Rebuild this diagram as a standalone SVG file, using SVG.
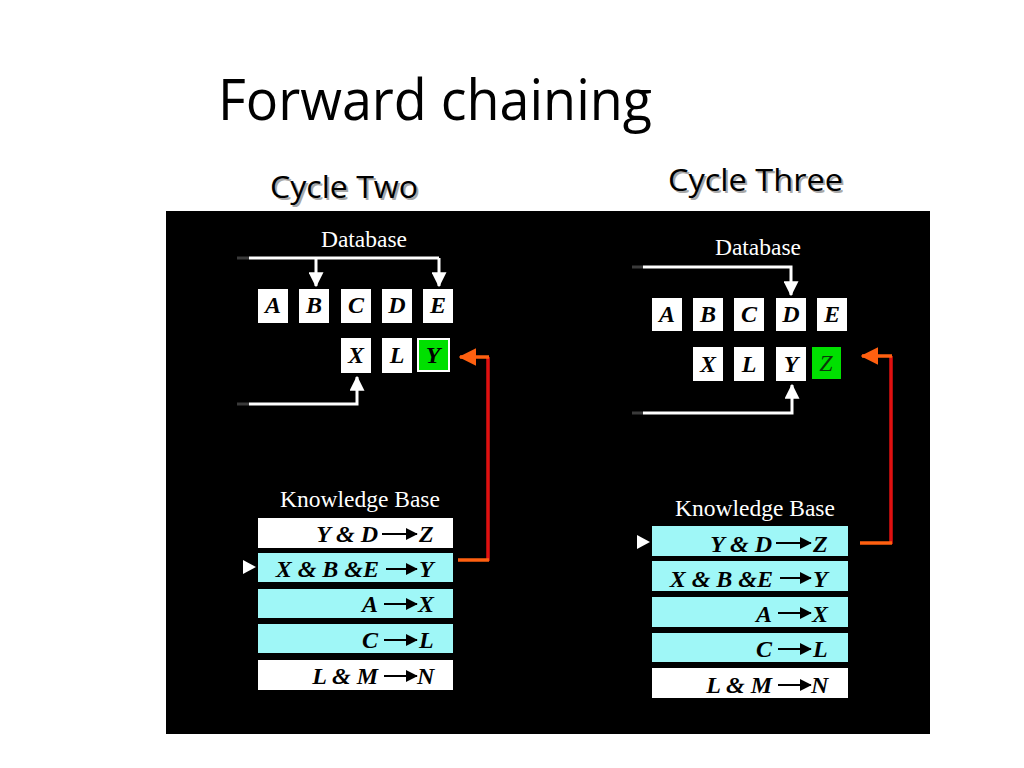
<svg xmlns="http://www.w3.org/2000/svg" width="1024" height="768" viewBox="0 0 1024 768">
<defs>
<style>
.title{font-family:"Open Sans","Liberation Sans",sans-serif;fill:#000}
.cyc{font-family:"Open Sans","Liberation Sans",sans-serif;font-size:31px}
.hdr{font-family:"Liberation Serif",serif;font-size:23.5px;fill:#fff;text-anchor:middle}
.box{fill:#fff}
.lt{font-family:"Liberation Serif",serif;font-size:24px;font-weight:bold;font-style:italic;fill:#000;text-anchor:middle}
.rt{font-family:"Liberation Serif",serif;font-size:24px;font-weight:bold;font-style:italic;fill:#000}
.wl{stroke:#fff;stroke-width:3;fill:none}
.dl{stroke:#3a3a3a;stroke-width:3;fill:none}
.cy{fill:#9ff7f7}
.wh{fill:#fff}
.al{stroke:#000;stroke-width:2;fill:none}
.red{stroke:#e01010;stroke-width:3.5;fill:none}
.org{stroke:#ff6010;stroke-width:3.5;fill:none}
</style>
<marker id="wa" markerWidth="5" markerHeight="5" refX="4.6" refY="2.5" orient="auto" markerUnits="strokeWidth"><path d="M0,0 L5,2.5 L0,5 z" fill="#fff"/></marker>
<marker id="oa" markerWidth="5" markerHeight="5" refX="4.6" refY="2.5" orient="auto" markerUnits="strokeWidth"><path d="M0,0 L5,2.5 L0,5 z" fill="#ff6010"/></marker>
<marker id="ka" markerWidth="6" markerHeight="6" refX="5.6" refY="3" orient="auto" markerUnits="strokeWidth"><path d="M0,0 L6,3 L0,6 z" fill="#000"/></marker>
</defs>
<rect width="1024" height="768" fill="#fff"/>
<text class="title" x="218" y="120" font-size="56" textLength="434" lengthAdjust="spacingAndGlyphs">Forward chaining</text>
<g id="cycle-two-label">
<text class="cyc" x="272" y="200" fill="#a8a8a8" textLength="148" lengthAdjust="spacingAndGlyphs">Cycle Two</text>
<text class="cyc" x="270" y="198" fill="#000" textLength="148" lengthAdjust="spacingAndGlyphs">Cycle Two</text>
</g>
<g id="cycle-three-label">
<text class="cyc" x="670" y="193" fill="#a8a8a8" textLength="175" lengthAdjust="spacingAndGlyphs">Cycle Three</text>
<text class="cyc" x="668" y="191" fill="#000" textLength="175" lengthAdjust="spacingAndGlyphs">Cycle Three</text>
</g>
<rect id="panel" x="166" y="211" width="764" height="523" fill="#000"/>

<!-- Cycle Two database -->
<g id="db2">
<text class="hdr" x="364" y="247">Database</text>
<g id="db2-A"><rect class="box" x="258" y="289" width="30" height="34"/><text class="lt" x="273" y="313">A</text></g>
<g id="db2-B"><rect class="box" x="299" y="289" width="30" height="34"/><text class="lt" x="314" y="313">B</text></g>
<g id="db2-C"><rect class="box" x="341" y="289" width="30" height="34"/><text class="lt" x="356" y="313">C</text></g>
<g id="db2-D"><rect class="box" x="382" y="289" width="30" height="34"/><text class="lt" x="397" y="313">D</text></g>
<g id="db2-E"><rect class="box" x="423" y="289" width="30" height="34"/><text class="lt" x="438" y="313">E</text></g>
<g id="db2-X"><rect class="box" x="341" y="338" width="30" height="35"/><text class="lt" x="356" y="363">X</text></g>
<g id="db2-L"><rect class="box" x="382" y="338" width="30" height="35"/><text class="lt" x="397" y="363">L</text></g>
<g id="db2-Y"><rect x="418" y="339" width="31" height="32" fill="#00e000" stroke="#fff" stroke-width="2"/><text class="lt" x="433" y="363">Y</text></g>
</g>

<!-- Cycle Two knowledge base -->
<g id="kb2">
<text class="hdr" x="360" y="507">Knowledge Base</text>
<g id="kb2-r1"><rect class="wh" x="258" y="518" width="195" height="30"/><text class="rt" x="378" y="542" text-anchor="end">Y &amp; D</text><line class="al" x1="382" y1="534" x2="417" y2="534" marker-end="url(#ka)"/><text class="rt" x="419" y="542">Z</text></g>
<g id="kb2-r2"><rect class="cy" x="258" y="553" width="195" height="29"/><text class="rt" x="379" y="577" text-anchor="end">X &amp; B &amp;E</text><line class="al" x1="386" y1="569" x2="417" y2="569" marker-end="url(#ka)"/><text class="rt" x="419" y="577">Y</text></g>
<g id="kb2-r3"><rect class="cy" x="258" y="589" width="195" height="29"/><text class="rt" x="378" y="612" text-anchor="end">A</text><line class="al" x1="384" y1="604" x2="417" y2="604" marker-end="url(#ka)"/><text class="rt" x="418" y="612">X</text></g>
<g id="kb2-r4"><rect class="cy" x="258" y="624" width="195" height="29"/><text class="rt" x="378" y="648" text-anchor="end">C</text><line class="al" x1="384" y1="640" x2="417" y2="640" marker-end="url(#ka)"/><text class="rt" x="419" y="648">L</text></g>
<g id="kb2-r5"><rect class="wh" x="258" y="660" width="195" height="30"/><text class="rt" x="378" y="684" text-anchor="end">L &amp; M</text><line class="al" x1="384" y1="676" x2="417" y2="676" marker-end="url(#ka)"/><text class="rt" x="417" y="684">N</text></g>
<polygon id="kb2-pointer" points="243,560 256,567 243,574" fill="#fff"/>
</g>

<!-- Cycle Three database -->
<g id="db3">
<text class="hdr" x="758" y="255">Database</text>
<g id="db3-A"><rect class="box" x="652" y="298" width="30" height="33"/><text class="lt" x="667" y="322">A</text></g>
<g id="db3-B"><rect class="box" x="693" y="298" width="30" height="33"/><text class="lt" x="708" y="322">B</text></g>
<g id="db3-C"><rect class="box" x="734" y="298" width="30" height="33"/><text class="lt" x="749" y="322">C</text></g>
<g id="db3-D"><rect class="box" x="776" y="298" width="30" height="33"/><text class="lt" x="791" y="322">D</text></g>
<g id="db3-E"><rect class="box" x="817" y="298" width="30" height="33"/><text class="lt" x="832" y="322">E</text></g>
<g id="db3-X"><rect class="box" x="693" y="347" width="30" height="34"/><text class="lt" x="708" y="372">X</text></g>
<g id="db3-L"><rect class="box" x="734" y="347" width="30" height="34"/><text class="lt" x="749" y="372">L</text></g>
<g id="db3-Y"><rect class="box" x="776" y="347" width="30" height="34"/><text class="lt" x="791" y="372">Y</text></g>
<g id="db3-Z"><rect x="812" y="347" width="29" height="32" fill="#00e000"/><text class="lt" x="826" y="371" style="font-weight:normal;fill:#0a3a0a">Z</text></g>
</g>

<!-- Cycle Three knowledge base -->
<g id="kb3">
<text class="hdr" x="755" y="516">Knowledge Base</text>
<g id="kb3-r1"><rect class="cy" x="652" y="526" width="196" height="30"/><text class="rt" x="772" y="552" text-anchor="end">Y &amp; D</text><line class="al" x1="776" y1="543" x2="811" y2="543" marker-end="url(#ka)"/><text class="rt" x="813" y="552">Z</text></g>
<g id="kb3-r2"><rect class="cy" x="652" y="561" width="196" height="30"/><text class="rt" x="773" y="587" text-anchor="end">X &amp; B &amp;E</text><line class="al" x1="780" y1="578" x2="811" y2="578" marker-end="url(#ka)"/><text class="rt" x="813" y="587">Y</text></g>
<g id="kb3-r3"><rect class="cy" x="652" y="597" width="196" height="30"/><text class="rt" x="772" y="622" text-anchor="end">A</text><line class="al" x1="778" y1="613" x2="811" y2="613" marker-end="url(#ka)"/><text class="rt" x="812" y="622">X</text></g>
<g id="kb3-r4"><rect class="cy" x="652" y="633" width="196" height="29"/><text class="rt" x="772" y="657" text-anchor="end">C</text><line class="al" x1="778" y1="649" x2="811" y2="649" marker-end="url(#ka)"/><text class="rt" x="813" y="657">L</text></g>
<g id="kb3-r5"><rect class="wh" x="652" y="668" width="196" height="30"/><text class="rt" x="772" y="693" text-anchor="end">L &amp; M</text><line class="al" x1="778" y1="685" x2="811" y2="685" marker-end="url(#ka)"/><text class="rt" x="811" y="693">N</text></g>
<polygon id="kb3-pointer" points="637,535 650,542 637,549" fill="#fff"/>
</g>

<g id="connectors">
<!-- Cycle Two -->
<line class="dl" x1="237" y1="258" x2="249" y2="258"/>
<polyline class="wl" points="249,258 439,258"/>
<line class="wl" x1="316" y1="258" x2="316" y2="286" marker-end="url(#wa)"/>
<line class="wl" x1="439" y1="258" x2="439" y2="286" marker-end="url(#wa)"/>
<line class="dl" x1="237" y1="404" x2="249" y2="404"/>
<polyline class="wl" points="249,404 357,404 357,377" marker-end="url(#wa)"/>
<line class="red" x1="488" y1="357" x2="488" y2="561"/>
<line class="org" x1="489" y1="357" x2="460" y2="357" marker-end="url(#oa)"/>
<line class="org" x1="458" y1="560" x2="489" y2="560"/>
<!-- Cycle Three -->
<line class="dl" x1="632" y1="267" x2="643" y2="267"/>
<polyline class="wl" points="643,267 791,267 791,295" marker-end="url(#wa)"/>
<line class="dl" x1="632" y1="413" x2="643" y2="413"/>
<polyline class="wl" points="643,413 792,413 792,385" marker-end="url(#wa)"/>
<line class="red" x1="891" y1="356" x2="891" y2="544"/>
<line class="org" x1="892" y1="356" x2="862" y2="356" marker-end="url(#oa)"/>
<line class="org" x1="860" y1="543" x2="892" y2="543"/>
</g>
</svg>
